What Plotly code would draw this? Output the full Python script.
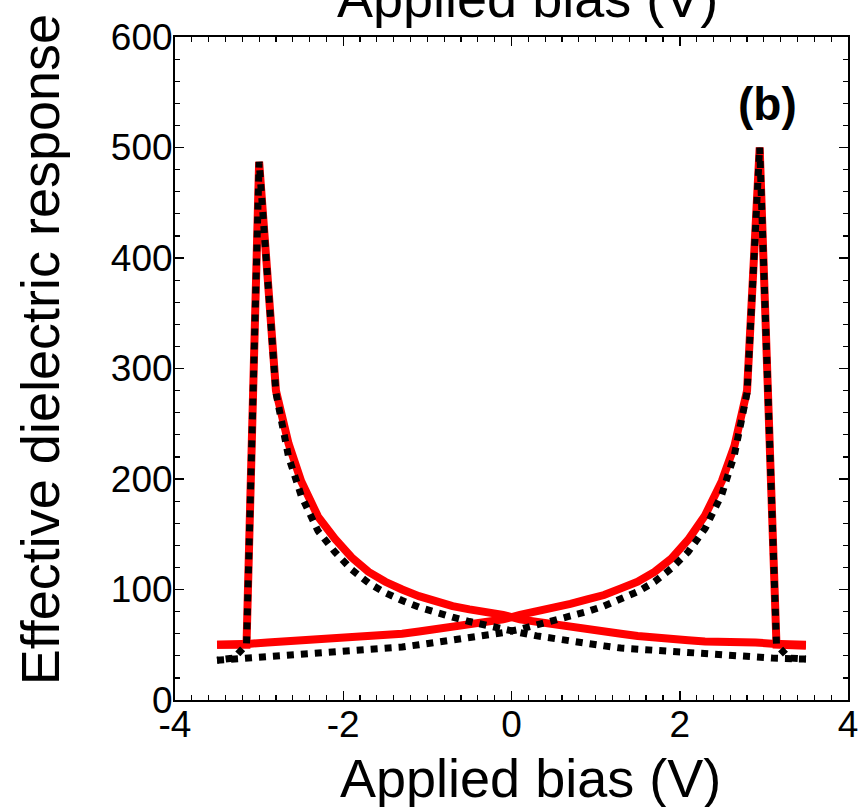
import plotly.graph_objects as go

# ---- data ----
bias_up = [-3.5, -3.3, -3.1, -2.9, -2.7, -2.5, -2.3, -2.1, -1.9, -1.7, -1.5, -1.3, -1.1, -0.9,
           -0.7, -0.5, -0.3, -0.1, 0.1, 0.3, 0.5, 0.7, 0.9, 1.1, 1.3, 1.5, 1.7, 1.9, 2.1, 2.3,
           2.5, 2.65, 2.8, 2.95, 3.15, 3.3, 3.5]
red_up = [50, 50, 51, 52, 53, 53, 54, 55, 56, 57, 58, 60, 62, 64,
          66, 68, 71, 73, 77, 80, 84, 87, 91, 95, 101, 107, 116, 128, 145, 167,
          198, 230, 280, 500, 50, 50, 49]
black_up = [36, 37, 38, 39, 40, 41, 42, 43, 44, 45, 46, 48, 50, 52,
            54, 56, 59, 61, 64, 68, 71, 75, 80, 85, 91, 98, 107, 119, 134, 155,
            186, 222, 278, 500, 50, 38, 37]

bias_down = [3.5, 3.3, 3.1, 2.9, 2.7, 2.5, 2.3, 2.1, 1.9, 1.7, 1.5, 1.3, 1.1, 0.9,
             0.7, 0.5, 0.3, 0.1, -0.1, -0.3, -0.5, -0.7, -0.9, -1.1, -1.3, -1.5, -1.7, -1.9,
             -2.1, -2.3, -2.5, -2.65, -2.8, -3.0, -3.15, -3.3, -3.5]
red_down = [50, 50, 51, 52, 52, 53, 53, 54, 55, 57, 58, 60, 62, 64,
            66, 68, 71, 73, 77, 79, 82, 85, 89, 94, 100, 107, 116, 129,
            146, 166, 198, 232, 280, 487, 50, 50, 50]
black_down = [37, 37, 38, 39, 40, 40, 41, 42, 43, 45, 46, 47, 49, 51,
              53, 55, 58, 61, 64, 67, 71, 75, 79, 84, 90, 97, 106, 118,
              134, 153, 185, 220, 278, 487, 50, 38, 36]

x_ticks = [-4, -2, 0, 2, 4]
y_ticks = [0, 100, 200, 300, 400, 500, 600]

FONT = "Liberation Sans, Arial, Helvetica, sans-serif"

fig = go.Figure()
for xs, ys in [(bias_up, red_up), (bias_down, red_down)]:
    fig.add_trace(go.Scatter(x=xs, y=ys, mode="lines",
                             line=dict(color="#ff0000", width=8, dash="solid"),
                             showlegend=False, hoverinfo="skip"))
for xs, ys in [(bias_up, black_up), (bias_down, black_down)]:
    fig.add_trace(go.Scatter(x=xs, y=ys, mode="lines",
                             line=dict(color="#000000", width=7, dash="dot"),
                             showlegend=False, hoverinfo="skip"))

axis_common = dict(
    showgrid=False, zeroline=False, showline=True, linecolor="black", linewidth=2,
    mirror="allticks", ticks="inside", ticklen=9, tickwidth=1.5, tickcolor="black",
    tickfont=dict(family=FONT, size=37, color="black"),
)

fig.update_xaxes(range=[-4, 4], tickvals=x_ticks, ticktext=[str(v) for v in x_ticks],
                 ticklabelstandoff=-9,
                 minor=dict(dtick=0.2, ticks="inside", ticklen=5, tickwidth=1.2,
                            tickcolor="black", showgrid=False),
                 **axis_common)
fig.update_yaxes(range=[0, 600], tickvals=y_ticks, ticktext=[str(v) for v in y_ticks],
                 ticklabelstandoff=-7,
                 minor=dict(dtick=20, ticks="inside", ticklen=5, tickwidth=1.2,
                            tickcolor="black", showgrid=False),
                 **axis_common)

fig.update_layout(
    width=864, height=807,
    margin=dict(l=175, r=16, t=37, b=107, autoexpand=False),
    paper_bgcolor="white", plot_bgcolor="white",
    font=dict(family=FONT, color="black"),
    annotations=[
        dict(text="Applied bias (V)", xref="paper", yref="paper", x=0.5275, y=-0.1176,
             xanchor="center", yanchor="middle", showarrow=False,
             font=dict(family=FONT, size=54, color="black")),
        dict(text="Applied bias (V)", xref="paper", yref="paper", x=0.5245, y=1.059,
             xanchor="center", yanchor="middle", showarrow=False,
             font=dict(family=FONT, size=54, color="black")),
        dict(text="Effective dielectric response", xref="paper", yref="paper",
             x=-0.2006, y=0.529, xanchor="center", yanchor="middle", textangle=-90,
             showarrow=False, font=dict(family=FONT, size=54, color="black")),
        dict(text="<b>(b)</b>", xref="paper", yref="paper",
             x=(767 - 175) / 673, y=(700 - 104) / 663, xanchor="center", yanchor="middle",
             showarrow=False, font=dict(family=FONT, size=46, color="black")),
    ],
)

fig.write_html("out.html", config={"displayModeBar": False, "staticPlot": True},
               post_script="document.body.style.margin='0';document.body.style.overflow='hidden';")
